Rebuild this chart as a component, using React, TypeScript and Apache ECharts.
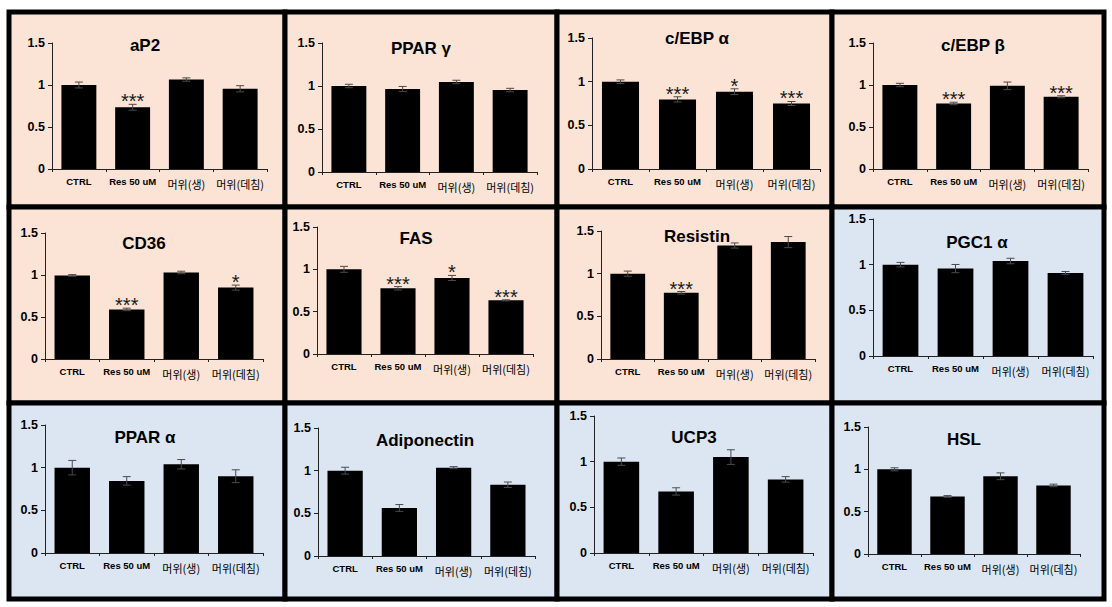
import React, { useEffect, useRef } from "react";
import * as echarts from "echarts";

// ---------- DATA ----------
const categories = ["CTRL", "Res 50 uM", "머위(생)", "머위(데침)"];
const yMin = 0;
const yMax = 1.5;
const yInterval = 0.5;

const titles = [
  "aP2", "PPAR γ", "c/EBP α", "c/EBP β",
  "CD36", "FAS", "Resistin", "PGC1 α",
  "PPAR α", "Adiponectin", "UCP3", "HSL",
];

const aP2 = [1.0, 0.735, 1.065, 0.955];
const aP2Err = [0.035, 0.035, 0.02, 0.037];
const aP2Sig = ["", "***", "", ""];

const pparG = [1.0, 0.965, 1.047, 0.953];
const pparGErr = [0.02, 0.03, 0.02, 0.02];
const pparGSig = ["", "", "", ""];

const cebpA = [1.0, 0.797, 0.885, 0.75];
const cebpAErr = [0.02, 0.03, 0.033, 0.023];
const cebpASig = ["", "***", "*", "***"];

const cebpB = [1.0, 0.78, 0.99, 0.86];
const cebpBErr = [0.02, 0.015, 0.045, 0.012];
const cebpBSig = ["", "***", "", "***"];

const cd36 = [0.995, 0.59, 1.03, 0.85];
const cd36Err = [0.01, 0.015, 0.015, 0.03];
const cd36Sig = ["", "***", "", "*"];

const fas = [1.0, 0.776, 0.898, 0.634];
const fasErr = [0.035, 0.02, 0.03, 0.006];
const fasSig = ["", "***", "*", "***"];

const resistin = [1.0, 0.776, 1.33, 1.37];
const resistinErr = [0.03, 0.015, 0.03, 0.065];
const resistinSig = ["", "***", "", ""];

const pgc1a = [1.0, 0.957, 1.04, 0.91];
const pgc1aErr = [0.025, 0.045, 0.03, 0.015];
const pgc1aSig = ["", "", "", ""];

const pparA = [1.0, 0.845, 1.04, 0.9];
const pparAErr = [0.085, 0.05, 0.055, 0.075];
const pparASig = ["", "", "", ""];

const adipo = [1.0, 0.563, 1.035, 0.835];
const adipoErr = [0.04, 0.04, 0.012, 0.032];
const adipoSig = ["", "", "", ""];

const ucp3 = [1.0, 0.674, 1.05, 0.806];
const ucp3Err = [0.04, 0.04, 0.08, 0.03];
const ucp3Sig = ["", "", "", ""];

const hsl = [1.0, 0.68, 0.918, 0.81];
const hslErr = [0.018, 0.01, 0.04, 0.015];
const hslSig = ["", "", "", ""];

const means = [aP2, pparG, cebpA, cebpB, cd36, fas, resistin, pgc1a, pparA, adipo, ucp3, hsl];
const errs = [aP2Err, pparGErr, cebpAErr, cebpBErr, cd36Err, fasErr, resistinErr, pgc1aErr, pparAErr, adipoErr, ucp3Err, hslErr];
const sigs = [aP2Sig, pparGSig, cebpASig, cebpBSig, cd36Sig, fasSig, resistinSig, pgc1aSig, pparASig, adipoSig, ucp3Sig, hslSig];
const tones = ["p", "p", "p", "p", "p", "p", "p", "b", "b", "b", "b", "b"];

// ---------- LAYOUT ----------
const colLines = [9, 285, 557, 832, 1104];
const rowLines = [12, 207, 403, 599];
// plot area per panel: left(y-axis x), right(x-axis end), top(1.5), bottom(0)
const plotBoxes = [
  [52, 267, 43, 169], [322, 537, 43, 172], [592, 820, 38, 169], [873, 1088, 43, 169],
  [45, 263, 233, 359], [317, 533, 227, 354], [601, 815, 231, 359], [873, 1093, 219, 356],
  [45, 263, 425, 553], [318, 535, 428, 556], [594, 813, 416, 553], [868, 1080, 427, 554],
];
const titleCenters = [
  [145, 45], [421, 48], [697, 38], [973, 45],
  [144, 243], [416, 238], [697, 236], [977, 242],
  [145, 437], [425, 440], [694, 437], [964, 439],
];

const PEACH = "#FBE4D5";
const BLUE = "#DCE6F2";

export default function App() {
  const ref = useRef<HTMLDivElement>(null);

  useEffect(() => {
    if (!ref.current) return;
    const chart = echarts.init(ref.current, null, { renderer: "svg" });

    const grids: any[] = [];
    const xAxes: any[] = [];
    const yAxes: any[] = [];
    const series: any[] = [];
    const graphics: any[] = [];

    for (let r = 0; r < 3; r++) {
      for (let c = 0; c < 4; c++) {
        const k = r * 4 + c;
        graphics.push({
          type: "rect",
          z: -10,
          shape: {
            x: colLines[c],
            y: rowLines[r],
            width: colLines[c + 1] - colLines[c],
            height: rowLines[r + 1] - rowLines[r],
          },
          style: { fill: tones[k] === "p" ? PEACH : BLUE, stroke: "#000", lineWidth: 5 },
        });
      }
    }

    for (let k = 0; k < 12; k++) {
      const [l, rr, t, b] = plotBoxes[k];
      grids.push({ left: l, top: t, width: rr - l, height: b - t, containLabel: false });
      xAxes.push({
        type: "category",
        gridIndex: k,
        data: categories,
        axisLine: { show: true, lineStyle: { color: "#222", width: 1 } },
        axisTick: { show: true, alignWithLabel: false, length: 3, lineStyle: { color: "#222" } },
        axisLabel: {
          interval: 0,
          margin: 7,
          color: "#000",
          formatter: (v: string) => (/[\uAC00-\uD7A3]/.test(v) ? `{k|${v}}` : `{e|${v}}`),
          rich: {
            e: { fontSize: 9.5, fontWeight: "bold", fontFamily: "Liberation Sans", color: "#000" },
            k: { fontSize: 11, fontFamily: "Noto Sans CJK KR", color: "#000", padding: [3, 0, 0, 0] },
          },
        },
        splitLine: { show: false },
        z: 5,
      });
      yAxes.push({
        type: "value",
        gridIndex: k,
        min: yMin,
        max: yMax,
        interval: yInterval,
        axisLine: { show: true, lineStyle: { color: "#222", width: 1 } },
        axisTick: { show: true, length: 4, lineStyle: { color: "#222" } },
        axisLabel: {
          margin: 7,
          color: "#000",
          fontSize: 12.5,
          fontWeight: "bold",
          fontFamily: "Liberation Sans",
        },
        splitLine: { show: false },
        z: 5,
      });
      series.push({
        type: "bar",
        xAxisIndex: k,
        yAxisIndex: k,
        data: means[k],
        barWidth: "65%",
        itemStyle: { color: "#000" },
        z: 2,
      });
      const sig = sigs[k];
      series.push({
        type: "custom",
        xAxisIndex: k,
        yAxisIndex: k,
        z: 3,
        data: means[k].map((m, i) => [i, m, errs[k][i]]),
        renderItem: (params: any, api: any) => {
          const i = params.dataIndex;
          const x = api.value(0);
          const m = api.value(1);
          const e = api.value(2);
          const top = api.coord([x, m + e]);
          const bot = api.coord([x, m - e]);
          const cap = 4;
          const st = { stroke: "#4a4a4a", lineWidth: 1 };
          const children: any[] = [
            { type: "line", shape: { x1: top[0], y1: top[1], x2: bot[0], y2: bot[1] }, style: st },
            { type: "line", shape: { x1: top[0] - cap, y1: top[1], x2: top[0] + cap, y2: top[1] }, style: st },
            { type: "line", shape: { x1: bot[0] - cap, y1: bot[1], x2: bot[0] + cap, y2: bot[1] }, style: st },
          ];
          const s = sig[i];
          if (s) {
            children.push({
              type: "text",
              x: top[0],
              y: top[1] + 7,
              style: {
                text: s,
                fontSize: 20,
                fontFamily: "Liberation Sans",
                fill: "#1a1a1a",
                textAlign: "center",
                align: "center",
                textVerticalAlign: "bottom",
                verticalAlign: "bottom",
              },
            });
          }
          return { type: "group", children };
        },
      });
      graphics.push({
        type: "text",
        z: 100,
        x: titleCenters[k][0],
        y: titleCenters[k][1],
        style: {
          text: titles[k],
          fontSize: 17,
          fontWeight: "bold",
          fontFamily: "Liberation Sans",
          fill: "#000",
          textAlign: "center",
          align: "center",
          textVerticalAlign: "middle",
          verticalAlign: "middle",
        },
      });
    }

    chart.setOption({
      animation: false,
      backgroundColor: "#fff",
      grid: grids,
      xAxis: xAxes,
      yAxis: yAxes,
      series,
      graphic: { elements: graphics },
    });

    return () => chart.dispose();
  }, []);

  return (
    <div
      ref={ref}
      style={{ position: "fixed", left: 0, top: 0, width: 1112, height: 607 }}
    />
  );
}
